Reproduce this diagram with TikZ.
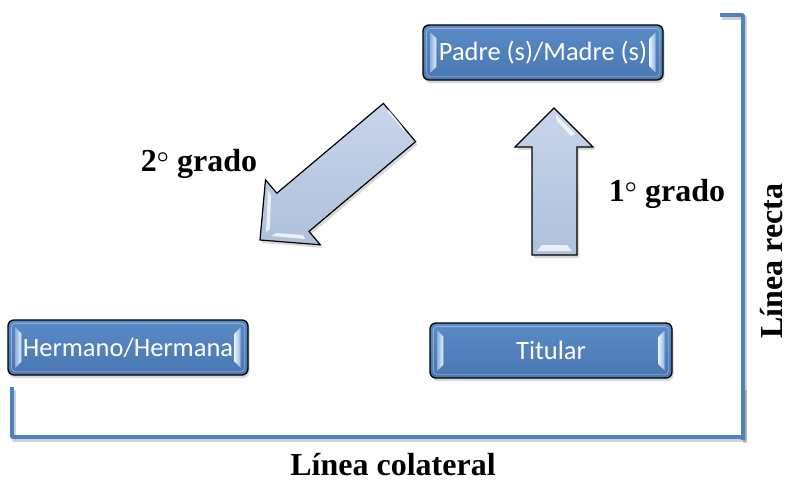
\documentclass[tikz,border=0pt]{standalone}
\usepackage{fontspec}
\setmainfont{Liberation Serif}
\newfontfamily\boxfont{Carlito}
\usetikzlibrary{shadows,calc}
\definecolor{boxblue}{HTML}{4F81BD}
\definecolor{boxtop}{HTML}{5A8BC7}
\definecolor{boxbot}{HTML}{4977B2}
\definecolor{bevout}{HTML}{8FB3E0}
\definecolor{bevin}{HTML}{E3F0FC}
\definecolor{arrtop}{HTML}{C8D5EB}
\definecolor{arrbot}{HTML}{AFC0DC}
\newcommand{\bevelstrips}[1]{%
  \path[left color=bevout, right color=bevin]
    ($(#1.north west)+(8,8)$) -- ($(#1.north west)+(14,14)$) --
    ($(#1.south west)+(14,-14)$) -- ($(#1.south west)+(8,-8)$) -- cycle;
  \path[left color=bevin, right color=bevout]
    ($(#1.north east)+(-8,8)$) -- ($(#1.north east)+(-14,14)$) --
    ($(#1.south east)+(-14,-14)$) -- ($(#1.south east)+(-8,-8)$) -- cycle;
  \draw[draw=white, opacity=0.35, line width=0.8pt, rounded corners=4pt]
    ($(#1.north west)+(4,4)$) rectangle ($(#1.south east)+(-4,-4)$);
}
\begin{document}
\begin{tikzpicture}[x=1pt,y=-1pt,
  bevbox/.style={draw=black, line width=1.3pt, rounded corners=6pt,
    top color=boxtop, bottom color=boxbot, inner sep=0pt,
    drop shadow={shadow xshift=1.5pt, shadow yshift=-3pt, opacity=0.3}},
  boxtext/.style={text=white, font=\boxfont\fontsize{26.5}{30}\selectfont, inner sep=0pt},
  lbl/.style={font=\bfseries\boldmath\fontsize{32}{36}\selectfont, inner sep=0pt},
  brk/.style={draw=boxblue, line width=3.6pt, line join=round},
  brkshadow/.style={draw=black, opacity=0.18, line width=4pt, line join=round},
  blockarrow/.style={draw=black, line width=1.2pt, line join=miter,
    top color=arrtop, bottom color=arrbot},
  glint/.style={fill=white, opacity=0.75}
]
\useasboundingbox (0,0) rectangle (792,483);

% brackets
\draw[brkshadow] (722,18) -- (745,18) -- (745,443);
\draw[brkshadow] (14,390) -- (14,440) -- (745,440) -- (745,390);
\draw[brk] (720,15) -- (743,15) -- (743,440);
\draw[brk] (12,387) -- (12,437) -- (743,437) -- (743,387);

% boxes
\node[bevbox, minimum width=240pt, minimum height=55pt] (padre) at (543,52.5) {};
\bevelstrips{padre}
\node[boxtext] (padret) at (padre.center) {Padre (s)/Madre (s)};

\node[bevbox, minimum width=240pt, minimum height=55pt] (hermano) at (128,347.5) {};
\bevelstrips{hermano}
\node[boxtext] (hermanot) at (hermano.center) {Hermano/Hermana};

\node[bevbox, minimum width=242pt, minimum height=55pt] (titular) at (551,350.5) {};
\bevelstrips{titular}
\node[boxtext] (titulart) at (titular.center) {Titular};

% up arrow (1 grado)
\fill[black, opacity=0.15] (556,111) -- (595,150) -- (579,150) -- (579,258) -- (534,258) -- (534,150) -- (517,150) -- cycle;
\draw[blockarrow] (554,108) -- (593,147) -- (577,147) -- (577,255) -- (532,255) -- (532,147) -- (515,147) -- cycle;
\fill[glint] (537,251) -- (572,251) -- (567,245) -- (542,245) -- cycle;
\fill[glint] (556,115) -- (575,134) -- (571,136) -- (557,121) -- cycle;

% diagonal arrow (2 grado)
\fill[black, opacity=0.15] (385.4,106.4) -- (417.6,144.6) -- (311,234.4) -- (322.3,247.8) -- (262,243) -- (267.5,182.8) -- (278.8,196.2) -- cycle;
\draw[blockarrow] (383.4,103.4) -- (415.6,141.6) -- (309,231.4) -- (320.3,244.8) -- (260,240) -- (265.5,179.8) -- (276.8,193.2) -- cycle;
\fill[glint] (387,111) -- (405,132) -- (402,126) -- (389,110) -- cycle;
\fill[glint] (266,233) -- (268,190) -- (271,195) -- (270,228) -- cycle;
\fill[glint] (272,236) -- (305,239) -- (303,235) -- (276,233) -- cycle;

% labels
\node[lbl] (g2) at (199,164) {2$^{\circ}$ grado};
\node[lbl] (g1) at (667,194) {1$^{\circ}$ grado};
\node[lbl, rotate=90, anchor=base, text depth=0pt] (recta) at (782,261) {Línea recta};
\node[lbl] (colat) at (393,465) {Línea colateral};
\end{tikzpicture}
\end{document}
